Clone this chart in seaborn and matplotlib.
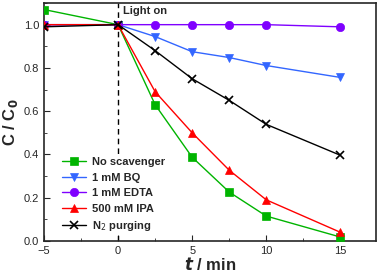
import pandas as pd
import matplotlib.pyplot as plt
import seaborn as sns
from matplotlib.ticker import MultipleLocator

# time points (min)
t = [-5, 0, 2.5, 5, 7.5, 10, 15]

# C/C0 for each scavenger condition
no_scav = [1.07, 1.0, 0.63, 0.387, 0.226, 0.115, 0.018]
bq = [1.0, 1.0, 0.945, 0.875, 0.848, 0.811, 0.756]
edta = [1.0, 1.0, 1.0, 1.0, 1.0, 1.0, 0.99]
ipa = [1.0, 1.0, 0.69, 0.50, 0.327, 0.19, 0.04]
n2 = [0.99, 1.0, 0.88, 0.75, 0.65, 0.539, 0.396]

labels = ["No scavenger", "1 mM BQ", "1 mM EDTA", "500 mM IPA", "N$_2$ purging"]
series = [no_scav, bq, edta, ipa, n2]
colors = ["#00B400", "#3366FF", "#7F00FF", "#FF0000", "#000000"]
markers = ["s", "v", "o", "^", "x"]

sns.set_style("ticks")
plt.rcParams['font.family'] = ['Liberation Sans', 'DejaVu Sans']

fig = plt.figure(figsize=(3.79, 2.76), dpi=100)
ax = fig.add_axes([0.116, 0.127, 0.876, 0.862])

ax.axvline(0, color="black", linestyle=(0, (4, 3)), linewidth=1.0, zorder=1)

for lab, vals, c, m in zip(labels, series, colors, markers):
    df = pd.DataFrame({"t": t, "C": vals})
    sns.lineplot(data=df, x="t", y="C", ax=ax, color=c, marker=m, label=lab,
                 linewidth=1.0, markersize=6, zorder=3,
                 markeredgecolor=c, markeredgewidth=1.2 if m == "x" else 0.5)

ax.text(0.3, 1.085, "Light on", fontsize=8, fontweight="bold", va="top", ha="left")

ax.set_xlim(-5, 17.4)
ax.set_ylim(0, 1.1)
ax.xaxis.set_major_locator(MultipleLocator(5))
ax.xaxis.set_minor_locator(MultipleLocator(2.5))
ax.yaxis.set_minor_locator(MultipleLocator(0.1))
ax.set_yticks([0, 0.2, 0.4, 0.6, 0.8, 1.0])
ax.tick_params(which="both", direction="in", top=False, right=False, labelsize=8)
ax.tick_params(which="major", length=4)
ax.tick_params(which="minor", length=2)
for sp in ax.spines.values():
    sp.set_linewidth(1.2)

ax.set_xlabel(r"$\boldsymbol{t}$ / min", fontsize=12, fontweight="bold", labelpad=0)
ax.set_ylabel(r"C / C$_\mathbf{0}$", fontsize=12, fontweight="bold", labelpad=3)

leg = ax.legend(loc="lower left", bbox_to_anchor=(0.03, 0.0), frameon=True,
                prop={"weight": "bold", "size": 8}, handlelength=2.2,
                labelspacing=0.5, handletextpad=0.5, borderpad=0.2)
leg.get_frame().set_facecolor("white")
leg.get_frame().set_edgecolor("none")
leg.get_frame().set_alpha(1.0)
leg.set_zorder(5)

fig.savefig("out.png", dpi=100)
